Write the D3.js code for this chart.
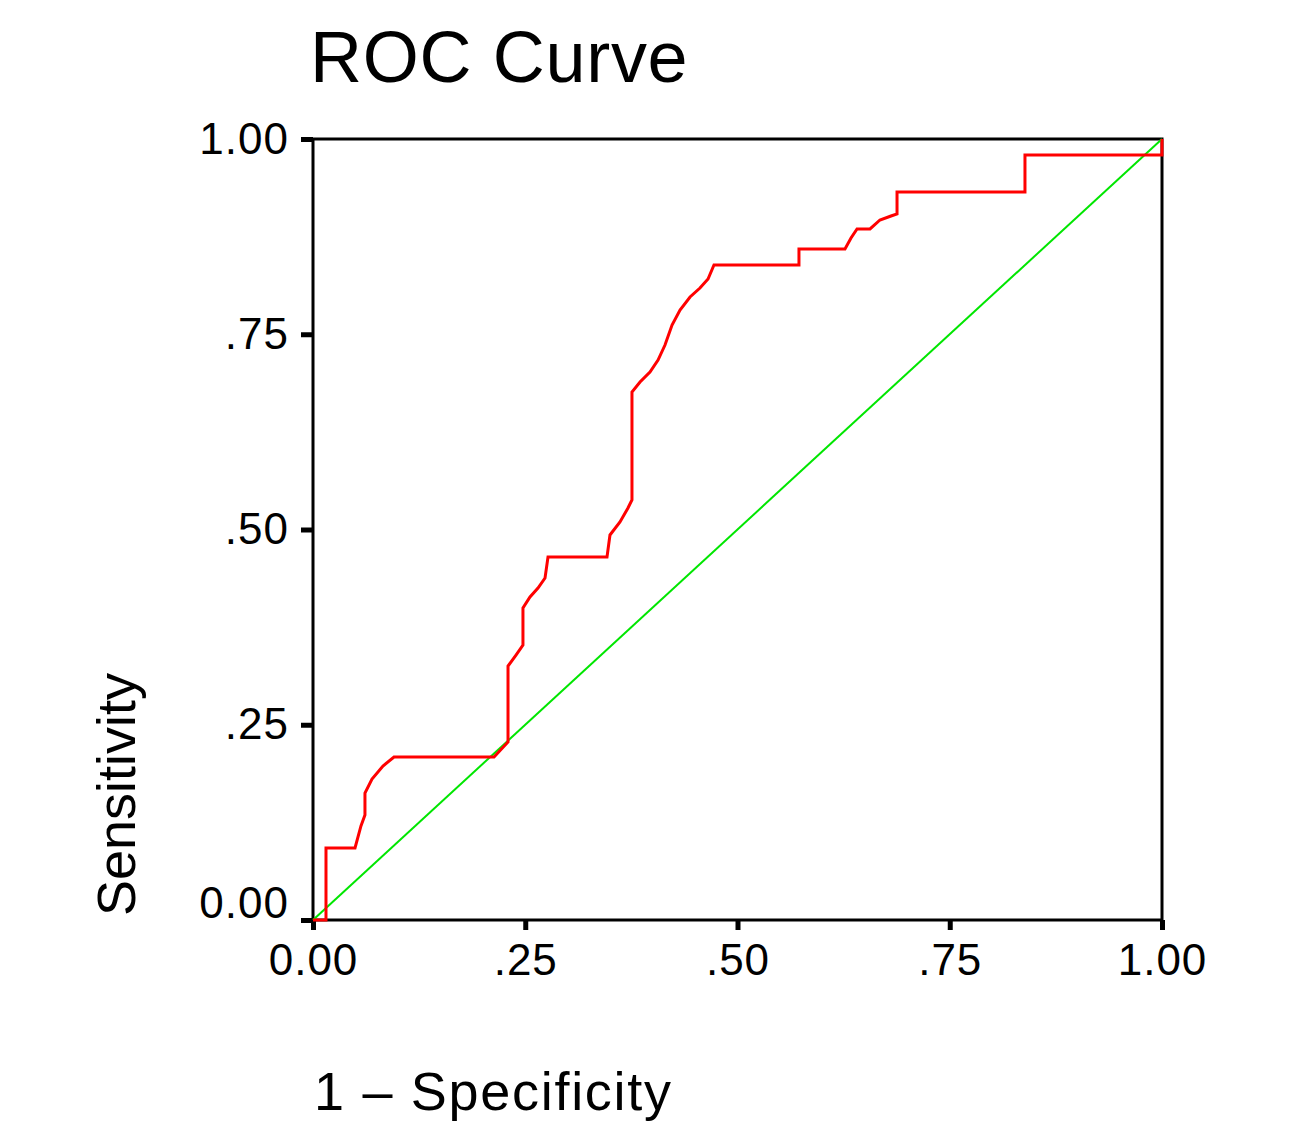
<!DOCTYPE html>
<html>
<head>
<meta charset="utf-8">
<script src="https://cdn.jsdelivr.net/npm/d3@7"></script>
<style>
  body { margin: 0; background: #fff; }
  svg text { font-family: "Liberation Sans", Arial, sans-serif; fill: #000; }
</style>
</head>
<body>
<svg id="chart"></svg>
<script>
// ROC points: 1 - specificity and sensitivity
const fpr = [0, 0.0153, 0.0153, 0.0495, 0.0565, 0.0612, 0.0612, 0.0695, 0.0824, 0.0954,
  0.2132, 0.2297, 0.2297, 0.2391, 0.2473, 0.2473, 0.2556, 0.2650, 0.2733, 0.2768,
  0.3463, 0.3498, 0.3616, 0.3710, 0.3757, 0.3757, 0.3852, 0.3969, 0.4064, 0.4146,
  0.4229, 0.4323, 0.4441, 0.4558, 0.4653, 0.4723, 0.5724, 0.5724, 0.6266, 0.6337,
  0.6408, 0.6561, 0.6678, 0.6808, 0.6879, 0.6879, 0.8386, 0.8386, 1.0, 1.0];
const tpr = [0, 0, 0.0922, 0.0922, 0.1204, 0.1344, 0.1626, 0.1805, 0.1972, 0.2087,
  0.2087, 0.2279, 0.3252, 0.3393, 0.3521, 0.3995, 0.4136, 0.4251, 0.4379, 0.4648,
  0.4648, 0.4930, 0.5096, 0.5275, 0.5378, 0.6761, 0.6889, 0.7017, 0.7170, 0.7362,
  0.7618, 0.7810, 0.7977, 0.8092, 0.8207, 0.8387, 0.8387, 0.8592, 0.8592, 0.8732,
  0.8848, 0.8848, 0.8963, 0.9014, 0.9040, 0.9321, 0.9321, 0.9795, 0.9795, 1.0];
const refLine = [[0, 0], [1, 1]];
const tickValues = [0, 0.25, 0.5, 0.75, 1];
const tickLabels = ["0.00", ".25", ".50", ".75", "1.00"];

const width = 1302, height = 1129;
const margin = { top: 139, right: 140, bottom: 209, left: 313 };
const w = width - margin.left - margin.right;
const h = height - margin.top - margin.bottom;

const svg = d3.select("#chart")
    .attr("width", width)
    .attr("height", height);

const g = svg.append("g")
    .attr("transform", `translate(${margin.left},${margin.top})`);

const x = d3.scaleLinear().domain([0, 1]).range([0, w]);
const y = d3.scaleLinear().domain([0, 1]).range([h, 0]);

// title
svg.append("text")
    .attr("x", 310)
    .attr("y", 82)
    .style("font-size", "72px")
    .style("letter-spacing", "0.7px")
    .text("ROC Curve");

// frame
g.append("rect")
    .attr("width", w)
    .attr("height", h)
    .attr("fill", "none")
    .attr("stroke", "#000")
    .attr("stroke-width", 3);

// axes
const xAxis = g.append("g")
    .attr("transform", `translate(0,${h})`)
    .call(d3.axisBottom(x).tickValues(tickValues).tickFormat((d, i) => tickLabels[i]).tickSize(10).tickPadding(14));

const yAxis = g.append("g")
    .call(d3.axisLeft(y).tickValues(tickValues).tickFormat((d, i) => tickLabels[i]).tickSize(12).tickPadding(12));

[xAxis, yAxis].forEach(a => {
    a.select(".domain").remove();
    a.selectAll(".tick line").attr("stroke", "#000").attr("stroke-width", 5);
    a.selectAll(".tick text")
        .style("font-size", "44px")
        .style("font-family", "'Liberation Sans', Arial, sans-serif")
        .style("letter-spacing", "1px")
        .attr("fill", "#000");
});

// lift the bottom y label a bit, like the original
yAxis.selectAll(".tick text").filter(d => d === 0).attr("dy", "-0.05em");

// reference diagonal
g.append("path")
    .datum(refLine)
    .attr("fill", "none")
    .attr("stroke", "#00e600")
    .attr("stroke-width", 2)
    .attr("d", d3.line().x(d => x(d[0])).y(d => y(d[1])));

// ROC curve
const pts = fpr.map((f, i) => [f, tpr[i]]);
g.append("path")
    .datum(pts)
    .attr("fill", "none")
    .attr("stroke", "#ff0000")
    .attr("stroke-width", 3)
    .attr("d", d3.line().x(d => x(d[0])).y(d => y(d[1])));

// axis titles
svg.append("text")
    .attr("x", 314)
    .attr("y", 1110)
    .style("font-size", "54px")
    .style("letter-spacing", "1.7px")
    .text("1 \u2013 Specificity");

svg.append("text")
    .attr("transform", "translate(135,916) rotate(-90)")
    .style("font-size", "54px")
    .text("Sensitivity");
</script>
</body>
</html>
